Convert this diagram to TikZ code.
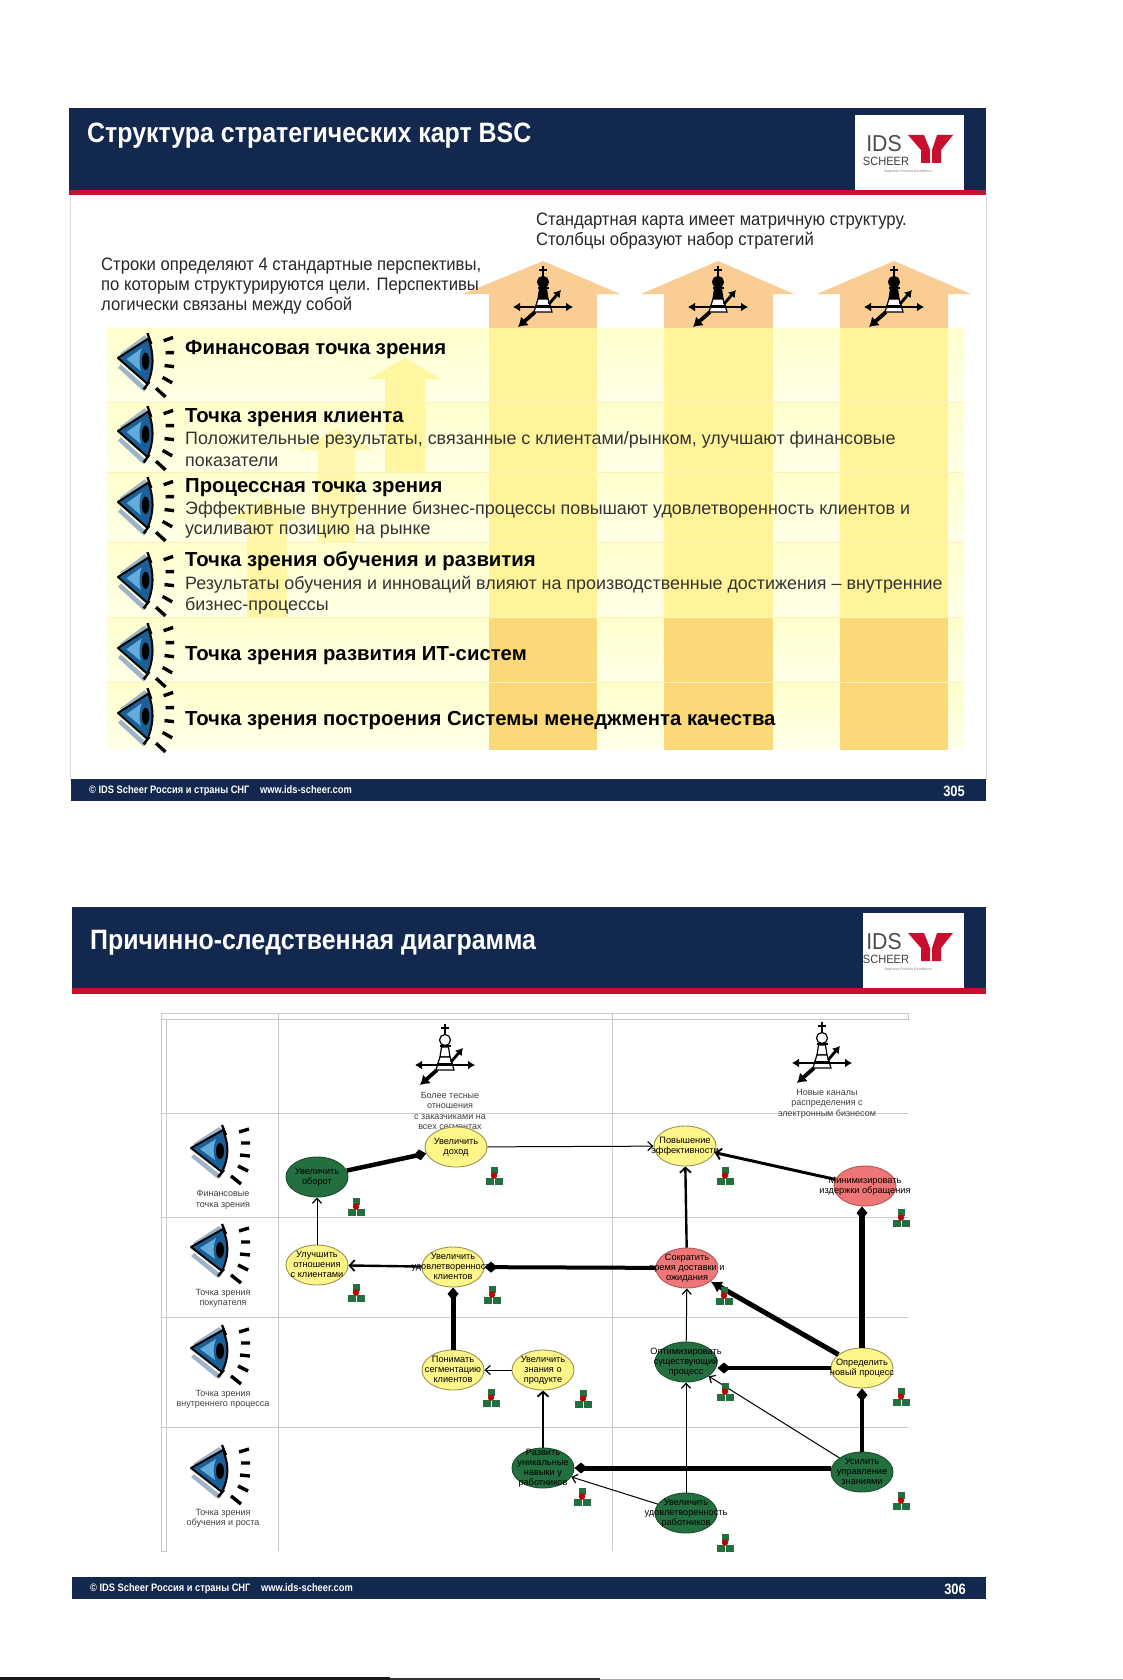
\documentclass[tikz,border=0pt]{standalone}
\usepackage{fontspec}
\setmainfont{Liberation Sans}
\newfontfamily\narrowf[FakeStretch=0.925]{Liberation Sans}
\newfontfamily\titlef[FakeStretch=0.89]{Liberation Sans}
\newfontfamily\footf[FakeStretch=0.86]{Liberation Sans}
\usetikzlibrary{arrows.meta,shapes.geometric}
\newcommand{\gt}[1]{\makebox[0pt][c]{\smash{\raisebox{-2.4pt}{\begin{tabular}[c]{@{}c@{}}#1\end{tabular}}}}}
\definecolor{bandc}{HTML}{12284F}
\definecolor{redc}{HTML}{C8102E}
\definecolor{gridc}{HTML}{C9C9C9}
\definecolor{headc}{HTML}{FACD94}
\definecolor{shaftc}{HTML}{FFF49A}
\definecolor{shaftb}{HTML}{FBD878}
\definecolor{staira}{HTML}{FFF6A0}
\definecolor{stairb}{HTML}{FFF8AC}
\definecolor{stairc}{HTML}{FFF7A6}
\definecolor{panelt}{HTML}{FFFFCC}
\definecolor{panelb}{HTML}{FFFFE8}
\definecolor{rowline}{HTML}{FFF2B8}
\definecolor{ylw}{HTML}{FFF68A}
\definecolor{grn}{HTML}{236F3F}
\definecolor{rdd}{HTML}{EE7676}
\definecolor{wingc}{HTML}{9DB4C8}
\definecolor{irisc}{HTML}{1C5F96}
\definecolor{irisl}{HTML}{62ABDA}
\tikzset{
 bandtext/.style={text=white,anchor=west,inner sep=0pt,font=\titlef\bfseries\fontsize{28}{30}\selectfont},
 foottext/.style={text=white,anchor=west,inner sep=0pt,font=\footf\bfseries\fontsize{10.8}{13}\selectfont},
 bodyhead/.style={anchor=west,inner sep=0pt,text=black!85,font=\narrowf\fontsize{18}{20}\selectfont},
 rowhead/.style={anchor=west,inner sep=0pt,text=black,font=\bfseries\fontsize{20.3}{22}\selectfont},
 rowbody/.style={anchor=west,inner sep=0pt,text=black!80,font=\fontsize{17.9}{22}\selectfont},
 small/.style={align=center,inner sep=0pt,text=black!75,font=\fontsize{9}{10.4}\selectfont},
 goal/.style={ellipse,minimum width=62pt,minimum height=40pt,inner sep=0pt,line width=.9pt,text=black,font=\fontsize{9.2}{10}\selectfont},
 goaly/.style={goal,fill=ylw,draw=ylw!60!black},
 goalg/.style={goal,fill=grn,draw=grn!70!black},
 goalr/.style={goal,fill=rdd,draw=rdd!75!black},
 thinarr/.style={line width=1pt,-{Straight Barb[length=5pt,width=9pt,line width=1.2pt]}},
 medarr/.style={line width=2.4pt,-{Straight Barb[length=5pt,width=11pt,line width=1.8pt]}},
 heavyarr/.style={line width=5pt,-{Latex[length=11pt,width=13pt]}},
 dia/.style={line width=#1,-{Diamond[length=13pt,width=11pt]}},
 gridline/.style={gridc,line width=.9pt},
 pics/eye/.style={code={
  \fill[wingc] (2,-4)--(28,-21)--(33,-17)--(6,-1)--cycle;
  \fill[wingc] (3,6)--(31,28)--(27,31)--(0,9)--cycle;
  \filldraw[black,fill=irisc,line width=2pt,line join=round] (0,0)--(32,-18) .. controls (38,-4) and (38,10) .. (31,24)--cycle;
  \fill[irisl] (9,1)--(25,-9) .. controls (22,-2) and (22,6) .. (24,12)--cycle;
  \fill[black] (29,3) ellipse (4 and 8);
  \draw[black,line width=2.4pt] (31,-23)--(35,-13) (27,29)--(33,22);
  \draw[black,line width=3.4pt]
   (48,-16)--(58,-19) (50,-5)--(59,-5) (49,7)--(59,8) (47,18)--(57,23) (40,28)--(50,36);
 }},
 pics/chess/.style={code={
  \draw[black,line width=2.2pt] (0,-41)--(0,-31) (-4,-37)--(4,-37);
  \filldraw[draw=black,fill=#1,line width=1.2pt] (0,-25) circle (5.5);
  \filldraw[draw=black,fill=#1,line width=1.2pt] (-3.5,-18)--(-5,-8)--(5,-8)--(3.5,-18)--cycle;
  \filldraw[draw=black,fill=white,line width=1.2pt] (-5,-8)--(-6,-5)--(-9,5)--(9,5)--(6,-5)--(5,-8)--cycle;
  \draw[black,line width=1.5pt] (-5.5,-19)--(5.5,-19) (-8,-1)--(8,-1);
  \draw[black,line width=2.8pt,{Latex[length=7pt,width=9pt]}-{Latex[length=7pt,width=9pt]}] (-30,0)--(30,0);
  \draw[black,line width=2.8pt,-{Latex[length=7pt,width=9pt]}] (6,-3)--(18,-17);
  \draw[black,line width=3.8pt,-{Latex[length=9pt,width=12pt]}] (-8,5)--(-25,20);
 }},
 pics/res/.style={code={
  \fill[grn] (-3,-9) rectangle (4,-2);
  \fill[grn] (-8.5,2) rectangle (-0.5,9);
  \fill[grn] (0.5,2) rectangle (8.5,9);
  \fill[red!75!black] (0,-.5) circle (3.2);
 }},
 pics/logo/.style={code={
  \node[inner sep=0pt,text=black!70,font=\narrowf\fontsize{23}{23}\selectfont] (ids) at (29,29) {IDS};
  \node[inner sep=0pt,text=black!75,font=\narrowf\fontsize{12}{12}\selectfont] (sch) at (31,46.5) {SCHEER};
  \node[inner sep=0pt,text=black!50,font=\fontsize{3.6}{4}\selectfont] (bpe) at (53,56) {Business Process Excellence};
  \fill[redc] (53,20)--(69,20)--(75,35)--(75,48)--(66,48)--(66,35)--cycle;
  \fill[redc] (98,20)--(82,20)--(77,35)--(77,48)--(86,48)--(86,35)--cycle;
 }},
}
\begin{document}
\begin{tikzpicture}[x=1pt,y=-1pt]
\useasboundingbox (0,0) rectangle (1123,1680);
\fill[white] (0,0) rectangle (1123,1680);
\fill[black!90] (0,1677) rectangle (390,1680);
\fill[black!80] (390,1678) rectangle (600,1680);
\fill[black!35] (600,1679) rectangle (1123,1680);
% ---------- slide 1 ----------
\draw[black!15,line width=.8pt] (70,195)--(70,780) (986,195)--(986,780);
\fill[bandc] (69,108) rectangle (986,190);
\fill[redc] (69,190) rectangle (986,195);
\fill[white] (855,115) rectangle (964,190);
\pic (logoa) at (855,115) {logo};
\node[bandtext] (titlea) at (87,136) {Структура стратегических карт BSC};
\node[bodyhead] (ha1) at (536,221.5) {Стандартная карта имеет матричную структуру.};
\node[bodyhead] (ha2) at (536,241) {Столбцы образуют набор стратегий};
% panel rows
\shade[top color=panelt,bottom color=panelb] (107,328) rectangle (964,402);
\shade[top color=panelt,bottom color=panelb] (107,402) rectangle (964,472);
\shade[top color=panelt,bottom color=panelb] (107,472) rectangle (964,542);
\shade[top color=panelt,bottom color=panelb] (107,542) rectangle (964,617);
\shade[top color=panelt,bottom color=panelb] (107,617) rectangle (964,682);
\shade[top color=panelt,bottom color=panelb] (107,682) rectangle (964,748);
% stair arrows
\fill[staira] (405,358)--(441,379)--(425,379)--(425,472)--(385,472)--(385,379)--(369,379)--cycle;
\fill[stairb] (337,428)--(373,450)--(355,450)--(355,542)--(318,542)--(318,450)--(300,450)--cycle;
\fill[stairc] (266,498)--(303,520)--(287,520)--(287,617)--(247,617)--(247,520)--(229,520)--cycle;
% big arrows
\fill[headc] (543,261)--(620,294)--(597,294)--(597,328)--(489,328)--(489,294)--(463,294)--cycle;
\fill[headc] (718,261)--(794,294)--(773,294)--(773,328)--(664,328)--(664,294)--(641,294)--cycle;
\fill[headc] (894,261)--(971,294)--(948,294)--(948,328)--(840,328)--(840,294)--(817,294)--cycle;
\fill[shaftc] (489,328) rectangle (597,617);
\fill[shaftc] (664,328) rectangle (773,617);
\fill[shaftc] (840,328) rectangle (948,617);
\fill[shaftb] (489,617) rectangle (597,750);
\fill[shaftb] (664,617) rectangle (773,750);
\fill[shaftb] (840,617) rectangle (948,750);
\draw[rowline,line width=.9pt] (107,402)--(964,402) (107,472)--(964,472) (107,542)--(964,542) (107,617)--(964,617) (107,682)--(964,682);
\node[bodyhead] (hb1) at (101,266) {Строки определяют 4 стандартные перспективы,};
\node[bodyhead] (hb2) at (101,286) {по которым структурируются цели. Перспективы};
\node[bodyhead] (hb3) at (101,306) {логически связаны между собой};
% chess slide 1
\pic at (543,307) {chess=black};
\pic at (718,307) {chess=black};
\pic at (894,307) {chess=black};
% eyes slide 1
\pic[xscale=.95,yscale=1.08] at (118,358) {eye};
\pic[xscale=.95,yscale=1.08] at (118,431) {eye};
\pic[xscale=.95,yscale=1.08] at (118,502) {eye};
\pic[xscale=.95,yscale=1.08] at (118,577) {eye};
\pic[xscale=.95,yscale=1.08] at (118,648) {eye};
\pic[xscale=.95,yscale=1.08] at (118,713) {eye};
% rows text
\node[rowhead] (r1) at (185,349.5) {Финансовая точка зрения};
\node[rowhead] (r2) at (185,418) {Точка зрения клиента};
\node[rowbody] (r2a) at (185,440) {Положительные результаты, связанные с клиентами/рынком, улучшают финансовые};
\node[rowbody] (r2b) at (185,462) {показатели};
\node[rowhead] (r3) at (185,487.5) {Процессная точка зрения};
\node[rowbody] (r3a) at (185,509.5) {Эффективные внутренние бизнес-процессы повышают удовлетворенность клиентов и};
\node[rowbody] (r3b) at (185,532) {усиливают позицию на рынке};
\node[rowhead] (r4) at (185,561.5) {Точка зрения обучения и развития};
\node[rowbody] (r4a) at (185,584.5) {Результаты обучения и инноваций влияют на производственные достижения – внутренние};
\node[rowbody] (r4b) at (185,606) {бизнес-процессы};
\node[rowhead] (r5) at (185,656) {Точка зрения развития ИТ-систем};
\node[rowhead] (r6) at (185,721) {Точка зрения построения Системы менеджмента качества};
% footer
\fill[bandc] (71,779) rectangle (986,801);
\node[foottext] (fa) at (89,791) {© IDS Scheer Россия и страны СНГ\quad www.ids-scheer.com};
\node[foottext,anchor=east,font=\footf\bfseries\fontsize{15}{16}\selectfont] (fan) at (965,791) {305};
% ---------- slide 2 ----------
\fill[bandc] (72,907) rectangle (986,988);
\fill[redc] (72,988) rectangle (986,994);
\fill[white] (863,913) rectangle (964,988);
\pic (logob) at (855,913) {logo};
\node[bandtext] (titleb) at (90,943) {Причинно-следственная диаграмма};
% grid
\draw[gridline] (161,1013) rectangle (908,1019);
\draw[gridline] (161,1013)--(161,1551)--(166,1551)--(166,1019);
\draw[gridline] (278,1013)--(278,1551) (612,1013)--(612,1551);
\draw[gridline] (161,1113)--(908,1113) (161,1217)--(908,1217) (161,1317)--(908,1317) (161,1427)--(908,1427);
% eyes
\pic at (191,1148) {eye};
\pic at (191,1247) {eye};
\pic at (191,1348) {eye};
\pic at (191,1468) {eye};
\node[small] (e1) at (223,1200) {Финансовые\\точка зрения};
\node[small] (e2) at (223,1298.5) {Точка зрения\\покупателя};
\node[small] (e3) at (223,1399.5) {Точка зрения\\внутреннего процесса};
\node[small] (e4) at (223,1518.5) {Точка зрения\\обучения  и роста};
% chess
\pic at (445,1065) {chess=white};
\pic at (822,1063) {chess=white};
\node[small] (c1) at (450,1111) {Более тесные\\отношения\\с заказчиками на\\всех сегментах};
\node[small] (c2) at (827,1103.5) {Новые каналы\\распределения с\\электронным бизнесом};
% goals
\node[goaly] (dohod) at (456,1147) {\gt{Увеличить\\доход}};
\node[goalg] (oborot) at (317,1177) {\gt{Увеличить\\оборот}};
\node[goaly] (otnosh) at (317,1265) {\gt{Улучшить\\отношения\\с клиентами}};
\node[goaly] (udkl) at (453,1267) {\gt{Увеличить\\удовлетворенность\\клиентов}};
\node[goaly] (effekt) at (685,1146) {\gt{Повышение\\эффективности}};
\node[goalr] (minim) at (865,1186) {\gt{Минимизировать\\издержки обращения}};
\node[goalr] (sokr) at (687,1268) {\gt{Сократить\\время доставки и\\ожидания}};
\node[goaly] (segm) at (453,1370) {\gt{Понимать\\сегментацию\\клиентов}};
\node[goaly] (znan) at (543,1370) {\gt{Увеличить\\знания о\\продукте}};
\node[goalg] (navyk) at (543,1468) {\gt{Развить\\уникальные\\навыки у\\работников}};
\node[goalg] (optim) at (686,1362) {\gt{Оптимизировать\\существующий\\процесс}};
\node[goaly] (nproc) at (862,1368) {\gt{Определить\\новый процесс}};
\node[goalg] (upr) at (862,1472) {\gt{Усилить\\управление\\знаниями}};
\node[goalg] (udrab) at (686,1513) {\gt{Увеличить\\удовлетворенность\\работников}};
% connectors
\draw[dia=4.5pt] (oborot)--(dohod);
\draw[thinarr] (dohod)--(effekt);
\draw[thinarr] (otnosh)--(oborot);
\draw[medarr] (udkl)--(otnosh);
\draw[dia=4pt] (sokr)--(udkl);
\draw[dia=5pt] (segm)--(udkl);
\draw[thinarr] (znan)--(segm);
\draw[medarr] (navyk)--(znan);
\draw[dia=5pt] (upr.west |- navyk.east)--(navyk.east);
\draw[thinarr] (udrab)--(navyk);
\draw[thinarr] (udrab)--(optim);
\draw[thinarr] (upr)--(optim);
\draw[dia=4.5pt] (upr)--(nproc);
\draw[dia=4.5pt] (nproc.west)--(optim.east |- nproc.west);
\draw[heavyarr] (nproc)--(sokr);
\draw[dia=6pt] (nproc.north)--(nproc.north |- minim.south);
\draw[thinarr] (optim)--(sokr);
\draw[medarr] (sokr)--(effekt);
\draw[line width=3pt,-{Straight Barb[length=5pt,width=11pt,line width=2pt]}] (minim)--(effekt);
% resource icons
\pic at (494,1176) {res};
\pic at (356,1207) {res};
\pic at (356,1293) {res};
\pic at (492,1295) {res};
\pic at (725,1176) {res};
\pic at (901,1218) {res};
\pic at (724,1296) {res};
\pic at (491,1398) {res};
\pic at (583,1399) {res};
\pic at (582,1497) {res};
\pic at (725,1392) {res};
\pic at (901,1397) {res};
\pic at (901,1501) {res};
\pic at (725,1543) {res};
% footer 2
\fill[bandc] (72,1577) rectangle (986,1599);
\node[foottext] (fb) at (90,1589) {© IDS Scheer Россия и страны СНГ\quad www.ids-scheer.com};
\node[foottext,anchor=east,font=\footf\bfseries\fontsize{15}{16}\selectfont] (fbn) at (966,1589) {306};
\end{tikzpicture}
\end{document}
